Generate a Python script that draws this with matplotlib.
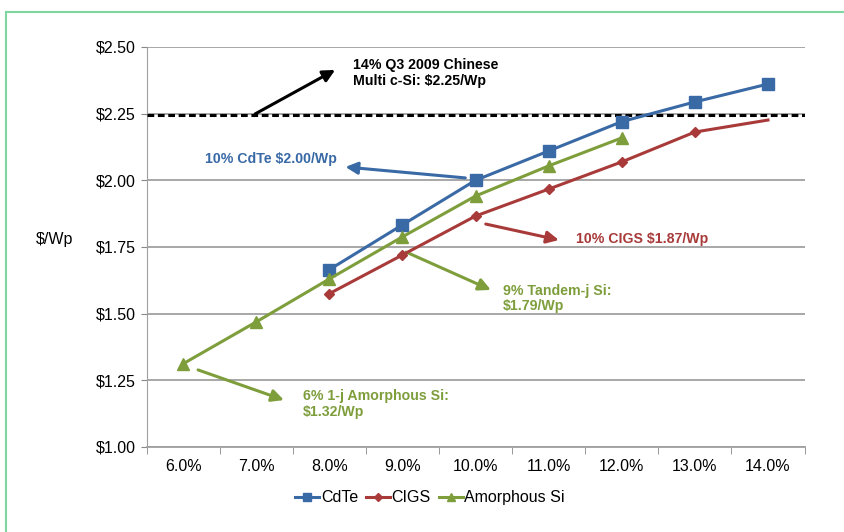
import matplotlib.pyplot as plt
from matplotlib.lines import Line2D

plt.rcParams['font.family'] = ['Liberation Sans', 'DejaVu Sans']

# data
efficiency = ["6.0%", "7.0%", "8.0%", "9.0%", "10.0%", "11.0%", "12.0%", "13.0%", "14.0%"]
cdte = [None, None, 1.665, 1.833, 2.00, 2.11, 2.22, 2.294, 2.361]
cigs = [None, None, 1.575, 1.72, 1.866, 1.967, 2.069, 2.181, 2.226]
amorphous = [1.312, 1.469, 1.63, 1.788, 1.941, 2.054, 2.159, None, None]
chinese_csi = 2.245

blue = "#3a6aa6"
red = "#a83b3a"
green = "#7e9e3c"

x = list(range(len(efficiency)))

def pts(vals):
    xs = [i for i, v in zip(x, vals) if v is not None]
    ys = [v for v in vals if v is not None]
    return xs, ys

fig = plt.figure(figsize=(8.45, 5.32), dpi=100)
ax = fig.add_axes([0.1734, 0.1598, 0.7787, 0.7519])

xs, ys = pts(cdte)
ax.plot(xs, ys, color=blue, lw=2.2, marker="s", ms=8, zorder=4)
xs, ys = pts(cigs)
ax.plot(xs, ys, color=red, lw=2.2, marker="D", ms=5.5, markevery=list(range(len(xs) - 1)), zorder=4)
xs, ys = pts(amorphous)
ax.plot(xs, ys, color=green, lw=2.2, marker="^", ms=8, zorder=4)

ax.axhline(chinese_csi, color="black", lw=2.2, ls=(0, (2.2, 1.2)), zorder=3)

ax.set_xlim(-0.5, len(efficiency) - 0.5)
ax.set_ylim(1.0, 2.5)
ax.set_yticks([1.0, 1.25, 1.5, 1.75, 2.0, 2.25, 2.5])
ax.set_yticklabels(["$%.2f" % v for v in [1.0, 1.25, 1.5, 1.75, 2.0, 2.25, 2.5]], fontsize=11.5)
ax.set_xticks(x)
ax.set_xticklabels(efficiency, fontsize=11.5)
ax.set_xticks([i - 0.5 for i in range(len(efficiency) + 1)], minor=True)
ax.tick_params(axis="x", which="major", length=0, pad=9)
ax.tick_params(axis="x", which="minor", length=5, color="#888888")
ax.tick_params(axis="y", length=4, color="#888888", pad=4)
ax.grid(True, axis="y", color="#a0a0a0", lw=1.3)
ax.set_axisbelow(True)
for s in ["top", "right"]:
    ax.spines[s].set_visible(False)
ax.spines["left"].set_color("#a0a0a0")
ax.spines["bottom"].set_color("#a0a0a0")
ax.spines["bottom"].set_linewidth(1.3)

ax.set_ylabel("$/Wp", rotation=0, fontsize=11.5)
ax.yaxis.set_label_coords(-0.14, 0.5)

def note(text, tail, head, xy, color):
    ax.annotate("", xy=head, xytext=tail,
                arrowprops=dict(arrowstyle="-|>", color=color, lw=2.2, mutation_scale=18,
                                shrinkA=0, shrinkB=0))
    ax.text(xy[0], xy[1], text, color=color, fontsize=10.2, fontweight="bold",
            ha="left", va="top", linespacing=1.15)

note("14% Q3 2009 Chinese\nMulti c-Si: $2.25/Wp", (0.986, 2.249), (2.08, 2.414), (2.33, 2.458), "black")
note("10% CdTe $2.00/Wp", (3.86, 2.009), (2.22, 2.05), (0.30, 2.105), blue)
note("10% CIGS $1.87/Wp", (4.14, 1.836), (5.14, 1.776), (5.37, 1.805), red)
note("9% Tandem-j Si:\n$1.79/Wp", (3.05, 1.731), (4.21, 1.589), (4.38, 1.612), green)
note("6% 1-j Amorphous Si:\n$1.32/Wp", (0.205, 1.289), (1.38, 1.176), (1.64, 1.218), green)

handles = [
    Line2D([], [], color=blue, lw=2.2, marker="s", ms=6),
    Line2D([], [], color=red, lw=2.2, marker="D", ms=4.5),
    Line2D([], [], color=green, lw=2.2, marker="^", ms=6),
]
fig.legend(handles, ["CdTe", "CIGS", "Amorphous Si"], loc="center", bbox_to_anchor=(0.509, 0.064),
           ncol=3, frameon=False, fontsize=11.5, handlelength=1.5, handletextpad=0.1, columnspacing=0.5)

# green frame at top and left
border = "#7fd6a0"
fig.add_artist(Line2D([6 / 845, 1.0], [1 - 12 / 532, 1 - 12 / 532], color=border, lw=1.5, transform=fig.transFigure))
fig.add_artist(Line2D([6 / 845, 6 / 845], [0, 1 - 12 / 532], color=border, lw=1.5, transform=fig.transFigure))

fig.savefig("out.png", dpi=100)
